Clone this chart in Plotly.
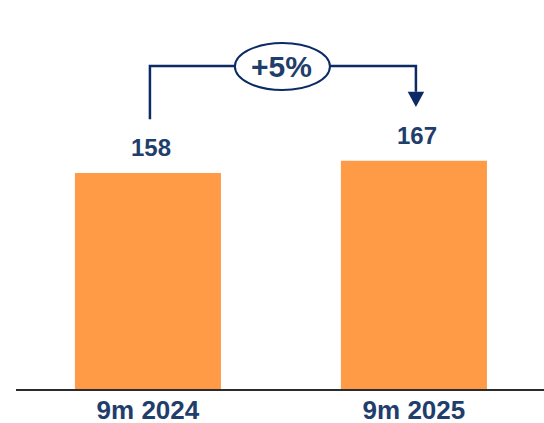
import plotly.graph_objects as go

categories = ["9m 2024", "9m 2025"]
values = [158, 167]
change_label = "+5%"

BAR = "#FF9A46"
TEXT = "#1F3E6B"
ARROW = "#0B2A66"
FONT = "Liberation Sans, Arial, sans-serif"

xs = list(range(len(categories)))

fig = go.Figure()
fig.add_trace(go.Bar(x=xs, y=values, marker=dict(color=BAR, line=dict(width=0)),
                     width=0.549, hoverinfo="skip"))

# value labels
for x, v in zip(xs, values):
    fig.add_annotation(x=x + 0.01, y=v, text=f"<b>{v}</b>", showarrow=False, yanchor="bottom",
                       yshift=10, font=dict(family=FONT, size=24, color=TEXT))

# growth connector
off = 39.4
top = max(values) + 69.3
xl, xr = xs[0] + 0.0075, xs[1] + 0.0075
fig.add_shape(type="path",
              path=f"M {xl} {values[0] + off} L {xl} {top} L {xr} {top} L {xr} {values[1] + off + 11}",
              line=dict(color=ARROW, width=2.5), layer="above")
fig.add_shape(type="path",
              path=f"M {xr - 0.031} {values[1] + off + 11} L {xr + 0.031} {values[1] + off + 11} L {xr} {values[1] + off} Z",
              line=dict(color=ARROW, width=0), fillcolor=ARROW, layer="above")
xm = 0.5056
fig.add_shape(type="circle", x0=xm - 0.1786, x1=xm + 0.1786, y0=top - 17.6, y1=top + 16.8,
              line=dict(color=ARROW, width=2), fillcolor="white", layer="above")
fig.add_annotation(x=xm - 0.004, y=top - 0.6, text=f"<b>{change_label}</b>", showarrow=False,
                   font=dict(family=FONT, size=30, color=TEXT))

fig.update_layout(
    width=544, height=423,
    margin=dict(l=16, r=0, t=0, b=34),
    paper_bgcolor="white", plot_bgcolor="white",
    showlegend=False,
    xaxis=dict(range=[-0.496, 1.489], tickvals=xs, ticktext=[f"<b>{c}</b>" for c in categories],
               showgrid=False, zeroline=False, showline=True, linecolor="#2B2B2E", linewidth=2,
               ticks="", automargin=False, ticklabelstandoff=-3,
               tickfont=dict(family=FONT, size=26, color=TEXT), fixedrange=True),
    yaxis=dict(range=[0, 284.6], visible=False, fixedrange=True, automargin=False),
)

fig.write_html("out.html", config={"displayModeBar": False},
               post_script="document.body.style.margin='0';document.body.style.overflow='hidden';")
